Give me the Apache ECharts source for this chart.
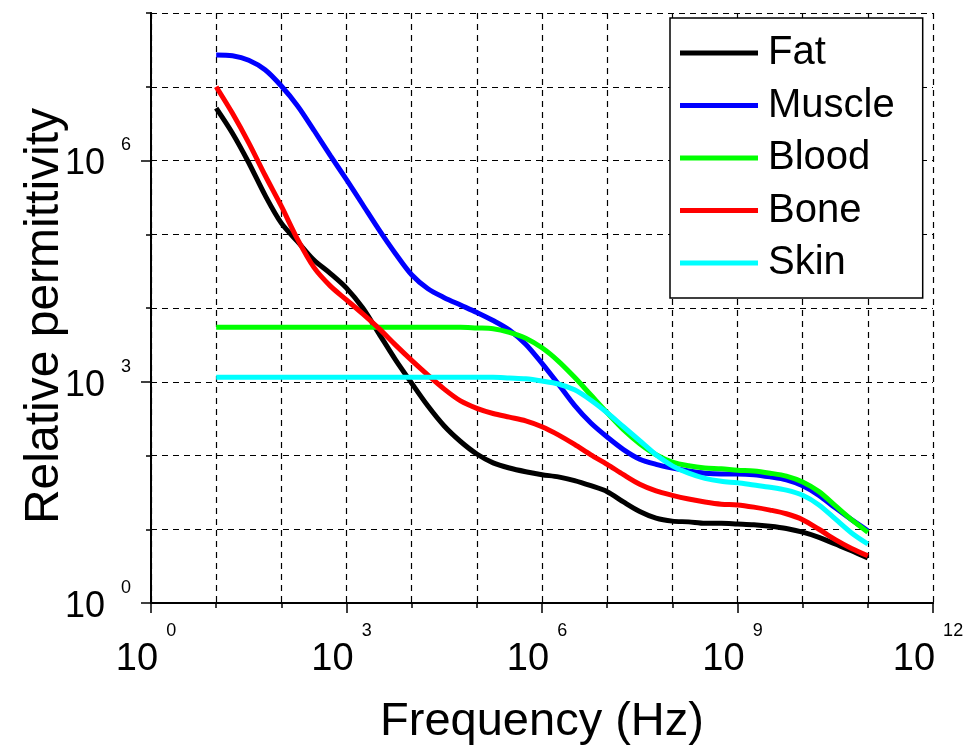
<!DOCTYPE html>
<html>
<head>
<meta charset="utf-8">
<script src="https://cdn.jsdelivr.net/npm/echarts@6/dist/echarts.min.js"></script>
<style>
html,body{margin:0;padding:0;background:#fff;}
#chart{width:979px;height:750px;}
</style>
</head>
<body>
<div id="chart"></div>
<script>
// Frequency as log10(Hz), quarter-decade steps
var freqExp = [1, 1.25, 1.5, 1.75, 2, 2.25, 2.5, 2.75, 3, 3.25, 3.5, 3.75, 4, 4.25, 4.5, 4.75, 5, 5.25, 5.5, 5.75,
               6, 6.25, 6.5, 6.75, 7, 7.25, 7.5, 7.75, 8, 8.25, 8.5, 8.75, 9, 9.25, 9.5, 9.75, 10, 10.25, 10.5, 10.75, 11];
// Relative permittivity as log10 values
var fat    = [6.71, 6.37, 5.97, 5.53, 5.15, 4.90, 4.65, 4.47, 4.27, 4.00, 3.65, 3.30, 2.98, 2.67, 2.40, 2.19, 2.02, 1.90, 1.83, 1.78,
              1.74, 1.71, 1.66, 1.59, 1.51, 1.37, 1.24, 1.15, 1.11, 1.10, 1.08, 1.08, 1.07, 1.06, 1.04, 1.01, 0.96, 0.89, 0.80, 0.71, 0.61];
var muscle = [7.43, 7.42, 7.36, 7.23, 7.01, 6.74, 6.41, 6.07, 5.74, 5.40, 5.06, 4.74, 4.45, 4.26, 4.14, 4.04, 3.94, 3.83, 3.70, 3.51,
              3.25, 2.97, 2.68, 2.44, 2.25, 2.08, 1.95, 1.88, 1.83, 1.79, 1.76, 1.75, 1.75, 1.74, 1.71, 1.67, 1.59, 1.46, 1.29, 1.13, 0.98];
var blood  = [3.74, 3.74, 3.74, 3.74, 3.74, 3.74, 3.74, 3.74, 3.74, 3.74, 3.74, 3.74, 3.74, 3.74, 3.74, 3.74, 3.73, 3.72, 3.67, 3.59,
              3.46, 3.28, 3.06, 2.82, 2.58, 2.35, 2.16, 2.01, 1.91, 1.86, 1.83, 1.82, 1.80, 1.79, 1.76, 1.72, 1.64, 1.51, 1.32, 1.13, 0.96];
var bone   = [7.00, 6.64, 6.24, 5.80, 5.38, 4.93, 4.55, 4.30, 4.11, 3.92, 3.72, 3.50, 3.29, 3.09, 2.90, 2.74, 2.64, 2.57, 2.52, 2.47,
              2.39, 2.28, 2.15, 2.01, 1.88, 1.74, 1.61, 1.52, 1.46, 1.41, 1.37, 1.34, 1.33, 1.30, 1.26, 1.21, 1.13, 1.00, 0.86, 0.74, 0.64];
var skin   = [3.06, 3.06, 3.06, 3.06, 3.06, 3.06, 3.06, 3.06, 3.06, 3.06, 3.06, 3.06, 3.06, 3.06, 3.06, 3.06, 3.06, 3.06, 3.05, 3.04,
              3.01, 2.97, 2.89, 2.75, 2.58, 2.39, 2.20, 2.01, 1.86, 1.76, 1.69, 1.65, 1.63, 1.60, 1.57, 1.53, 1.46, 1.33, 1.14, 0.95, 0.80];
var seriesNames = ['Fat', 'Muscle', 'Blood', 'Bone', 'Skin'];
var seriesColors = ['#000000', '#0000ff', '#00ff00', '#ff0000', '#00ffff'];
var seriesValues = [fat, muscle, blood, bone, skin];
// Labelled (major) tick values
var xMajorTicks = [1, 1e3, 1e6, 1e9, 1e12];
var yMajorTicks = [1, 1e3, 1e6];

var FONT = 'Liberation Sans, Arial, Helvetica, sans-serif';

function pts(vals) {
  return freqExp.map(function (f, i) { return [Math.pow(10, f), Math.pow(10, vals[i])]; });
}
function expLabel(v) {
  var e = Math.round(Math.log10(v));
  return '{b|10}{s|' + e + '}';
}

var chart = echarts.init(document.getElementById('chart'), null, {renderer: 'canvas'});

var dash = {color: '#000', width: 1.2, type: [6, 5]};

var option = {
  backgroundColor: '#fff',
  animation: false,
  textStyle: {fontFamily: FONT},
  grid: {left: 151, right: 46, top: 13, bottom: 147, containLabel: false, outerBoundsMode: 'none'},
  legend: {
    show: true,
    orient: 'vertical',
    left: 670,
    top: 18,
    padding: [15, 28, 15, 10],
    itemGap: 12.5,
    itemWidth: 78,
    itemHeight: 5,
    icon: 'rect',
    backgroundColor: '#fff',
    borderColor: '#000',
    borderWidth: 1.5,
    borderRadius: 0,
    textStyle: {fontSize: 40, lineHeight: 40, color: '#000', fontFamily: FONT, padding: [0, 0, 0, 5]},
    data: seriesNames
  },
  xAxis: [
    {
      type: 'log', logBase: 10, min: 1, max: 1e12, interval: 1,
      axisLine: {show: true, lineStyle: {color: '#000', width: 2}},
      axisTick: {show: true, length: 5, lineStyle: {color: '#000', width: 1.5}},
      axisLabel: {show: false},
      splitLine: {show: true, lineStyle: dash},
      minorTick: {show: false}, minorSplitLine: {show: false},
      name: 'Frequency (Hz)', nameLocation: 'middle', nameGap: 96,
      nameTextStyle: {fontSize: 47, color: '#000', fontFamily: FONT}
    },
    {
      type: 'log', logBase: 10, min: 1, max: 1e12, interval: 3, position: 'bottom',
      axisLine: {show: true, lineStyle: {color: '#000', width: 2}},
      axisTick: {show: true, length: 10, customValues: xMajorTicks, lineStyle: {color: '#000', width: 1.5}},
      splitLine: {show: false},
      axisLabel: {
        show: true, margin: 19, color: '#000',
        customValues: xMajorTicks,
        formatter: expLabel,
        rich: {
          b: {fontSize: 38, lineHeight: 48, padding: [27, 0, 0, 0], fontFamily: FONT, color: '#000'},
          s: {fontSize: 18, lineHeight: 18, verticalAlign: 'top', padding: [0, 10, 57, 8], fontFamily: FONT, color: '#000'}
        }
      }
    }
  ],
  yAxis: [
    {
      type: 'log', logBase: 10, min: 1, max: 1e8, interval: 1,
      axisLine: {show: true, lineStyle: {color: '#000', width: 2}},
      axisTick: {show: true, length: 5, lineStyle: {color: '#000', width: 1.5}},
      axisLabel: {show: false},
      splitLine: {show: true, lineStyle: dash},
      minorTick: {show: false}, minorSplitLine: {show: false},
      name: 'Relative permittivity', nameLocation: 'middle', nameGap: 82,
      nameTextStyle: {fontSize: 48, color: '#000', fontFamily: FONT, padding: [0, 16, 0, 0]}
    },
    {
      type: 'log', logBase: 10, min: 1, max: 1e8, interval: 3, position: 'left',
      axisLine: {show: true, lineStyle: {color: '#000', width: 2}},
      axisTick: {show: true, length: 10, customValues: yMajorTicks, lineStyle: {color: '#000', width: 1.5}},
      splitLine: {show: false},
      axisLabel: {
        show: true, margin: 20, color: '#000',
        customValues: yMajorTicks,
        formatter: expLabel,
        rich: {
          b: {fontSize: 36, lineHeight: 48, padding: [8, 0, 0, 0], fontFamily: FONT, color: '#000'},
          s: {fontSize: 18, lineHeight: 18, verticalAlign: 'top', padding: [0, 0, 38, 16], fontFamily: FONT, color: '#000'}
        }
      }
    }
  ],
  series: seriesNames.map(function (n, i) {
    return {
      name: n, type: 'line', xAxisIndex: 0, yAxisIndex: 0,
      data: pts(seriesValues[i]),
      smooth: 0.3,
      showSymbol: false, symbol: 'none',
      lineStyle: {color: seriesColors[i], width: 5},
      itemStyle: {color: seriesColors[i]},
      z: 2 + i
    };
  })
};
chart.setOption(option);
</script>
</body>
</html>
